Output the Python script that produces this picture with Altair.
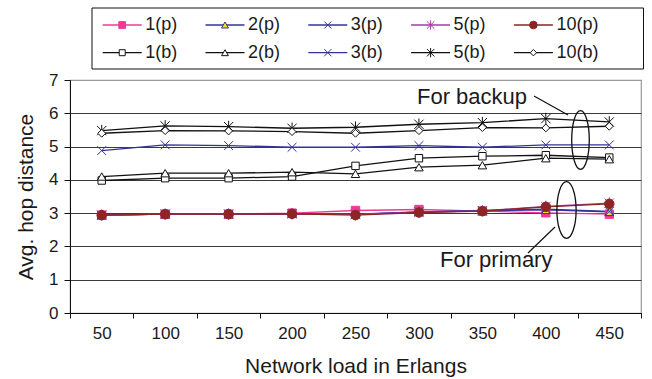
import altair as alt
import pandas as pd

# ---------------- data ----------------
loads = [50, 100, 150, 200, 250, 300, 350, 400, 450]
series = ["1(p)", "2(p)", "3(p)", "5(p)", "10(p)",
          "1(b)", "2(b)", "3(b)", "5(b)", "10(b)"]

hop_1p = [2.94, 2.97, 2.97, 3.00, 3.08, 3.11, 3.06, 3.01, 2.97]
hop_2p = [2.94, 2.97, 2.97, 2.98, 2.96, 3.03, 3.07, 3.10, 3.04]
hop_3p = [2.94, 2.97, 2.97, 2.98, 2.97, 3.04, 3.08, 3.12, 3.05]
hop_5p = [2.94, 2.97, 2.97, 2.98, 2.96, 3.03, 3.07, 3.20, 3.30]
hop_10p = [2.94, 2.97, 2.97, 2.98, 2.94, 3.02, 3.06, 3.19, 3.28]
hop_1b = [3.98, 4.05, 4.05, 4.10, 4.42, 4.65, 4.71, 4.74, 4.67]
hop_2b = [4.10, 4.20, 4.20, 4.23, 4.18, 4.38, 4.44, 4.65, 4.62]
hop_3b = [4.88, 5.05, 5.03, 4.98, 4.98, 5.03, 4.98, 5.05, 5.05]
hop_5b = [5.48, 5.62, 5.60, 5.55, 5.58, 5.67, 5.72, 5.84, 5.74]
hop_10b = [5.40, 5.48, 5.47, 5.45, 5.40, 5.48, 5.57, 5.56, 5.61]

values = [hop_1p, hop_2p, hop_3p, hop_5p, hop_10p,
          hop_1b, hop_2b, hop_3b, hop_5b, hop_10b]

# ---------------- styles ----------------
PINK = "#ef3a92"
NAVY = "#33339b"
PURPLE = "#a23ba9"
BROWN = "#8d2525"
YELLOW = "#f3e31e"
BLACK = "#111111"
TEXT = "#1a1a1a"
FONT = "Liberation Sans, Arial, sans-serif"

X_PATH = "M-1,-1L1,1M-1,1L1,-1"
STAR_PATH = "M-1,-1L1,1M-1,1L1,-1M0,-1.25L0,1.25"

line_color = [PINK, NAVY, NAVY, PURPLE, BROWN, BLACK, BLACK, NAVY, BLACK, BLACK]
marker_fill = [PINK, YELLOW, "transparent", "transparent", BROWN,
               "white", "white", "transparent", "transparent", "white"]
marker_shape = ["square", "triangle-up", X_PATH, STAR_PATH, "circle",
                "square", "triangle-up", X_PATH, STAR_PATH, "diamond"]
marker_size = [70, 75, 75, 85, 90, 55, 72, 78, 85, 62]

W, H = 571, 233

# long table for the plotted series
rows = []
for i, (name, vals) in enumerate(zip(series, values)):
    for load, v in zip(loads, vals):
        rows.append({"series": name, "load": load, "hop": v,
                     "lcolor": line_color[i], "mfill": marker_fill[i],
                     "mshape": marker_shape[i], "msize": marker_size[i]})
df = pd.DataFrame(rows)

x_enc = alt.X(
    "load:O",
    scale=alt.Scale(type="band", paddingInner=0, paddingOuter=0),
    bandPosition=0.5,
    title="Network load in Erlangs",
    axis=alt.Axis(tickBand="extent", labelAngle=0, tickSize=5,
                  labelPadding=7, titlePadding=14, grid=False),
)
y_enc = alt.Y(
    "hop:Q",
    scale=alt.Scale(domain=[0, 7], nice=False),
    title="Avg. hop distance",
    axis=alt.Axis(values=list(range(8)), tickSize=6, labelPadding=6,
                  titlePadding=12,
                  gridColor={"condition": {"test": "datum.value === 7",
                                           "value": "#9a9a9a"},
                             "value": "#3a3a3a"}),
)

lines = alt.Chart(df).mark_line(strokeWidth=1.3).encode(
    x=x_enc, y=y_enc,
    stroke=alt.Stroke("lcolor:N", scale=None),
    detail="series:N",
)

points = alt.Chart(df).mark_point(filled=False, strokeWidth=1, opacity=1).encode(
    x=x_enc, y=y_enc,
    shape=alt.Shape("mshape:N", scale=None),
    fill=alt.Fill("mfill:N", scale=None),
    stroke=alt.Stroke("lcolor:N", scale=None),
    size=alt.Size("msize:Q", scale=None),
)

# ---------------- legend (two rows of five) ----------------
LEG_X0, LEG_STEP, LEG_LINE = 32.7, 102.8, 39
LEG_Y0, LEG_ROW = -55, 27.7
leg = pd.DataFrame({
    "series": series,
    "lcolor": line_color,
    "mfill": marker_fill,
    "mshape": marker_shape,
    "msize": [s * 0.65 for s in marker_size],
})
leg["col"] = [i % 5 for i in range(len(series))]
leg["row"] = [i // 5 for i in range(len(series))]
leg["x0"] = LEG_X0 + leg["col"] * LEG_STEP
leg["x1"] = leg["x0"] + LEG_LINE
leg["xm"] = leg["x0"] + LEG_LINE / 2
leg["xt"] = leg["x1"] + 3.5
leg["ly"] = LEG_Y0 + leg["row"] * LEG_ROW

one = pd.DataFrame({"k": [0]})

legend_box = alt.Chart(one).mark_rect(
    fill="white", stroke=BLACK, strokeWidth=1
).encode(x=alt.value(22), x2=alt.value(573.5), y=alt.value(-72), y2=alt.value(-11))

legend_lines = alt.Chart(leg).mark_rule(strokeWidth=1.3).encode(
    x=alt.X("x0:Q", scale=None), x2="x1:Q",
    y=alt.Y("ly:Q", scale=None),
    stroke=alt.Stroke("lcolor:N", scale=None),
)
legend_marks = alt.Chart(leg).mark_point(filled=False, strokeWidth=1, opacity=1).encode(
    x=alt.X("xm:Q", scale=None),
    y=alt.Y("ly:Q", scale=None),
    shape=alt.Shape("mshape:N", scale=None),
    fill=alt.Fill("mfill:N", scale=None),
    stroke=alt.Stroke("lcolor:N", scale=None),
    size=alt.Size("msize:Q", scale=None),
)
legend_text = alt.Chart(leg).mark_text(
    align="left", baseline="middle", fontSize=18, font=FONT, color=TEXT
).encode(
    x=alt.X("xt:Q", scale=None),
    y=alt.Y("ly:Q", scale=None),
    text="series:N",
)

# ---------------- callouts ----------------
ELLIPSE_B = "M0,-1A0.30,1,0,1,1,0,1A0.30,1,0,1,1,0,-1Z"
ELLIPSE_P = "M0,-1A0.34,1,0,1,1,0,1A0.34,1,0,1,1,0,-1Z"

note_backup = alt.Chart(one).mark_text(
    text="For backup", align="left", baseline="alphabetic",
    fontSize=22, font=FONT, color=TEXT
).encode(x=alt.value(347), y=alt.value(24))
note_primary = alt.Chart(one).mark_text(
    text="For primary", align="left", baseline="alphabetic",
    fontSize=22, font=FONT, color=TEXT
).encode(x=alt.value(370), y=alt.value(187))

arrow_backup = alt.Chart(one).mark_rule(color=BLACK, strokeWidth=1.2).encode(
    x=alt.value(464), y=alt.value(16), x2=alt.value(498), y2=alt.value(35))
arrow_primary = alt.Chart(one).mark_rule(color=BLACK, strokeWidth=1.2).encode(
    x=alt.value(485), y=alt.value(147), x2=alt.value(458), y2=alt.value(173))

ring_backup = alt.Chart(one).mark_point(
    shape=ELLIPSE_B, size=3434, filled=False, color=BLACK, strokeWidth=1.3, opacity=1
).encode(x=alt.value(510.5), y=alt.value(60))
ring_primary = alt.Chart(one).mark_point(
    shape=ELLIPSE_P, size=3204, filled=False, color=BLACK, strokeWidth=1.3, opacity=1
).encode(x=alt.value(496.5), y=alt.value(130))

chart = alt.layer(
    lines, points,
    legend_box, legend_lines, legend_marks, legend_text,
    arrow_backup, arrow_primary, ring_backup, ring_primary,
    note_backup, note_primary,
).properties(
    width=W, height=H,
    autosize=alt.AutoSizeParams(type="none"),
    padding={"left": 70, "top": 80, "right": 11, "bottom": 66},
).configure(
    font=FONT,
).configure_view(
    stroke="#9a9a9a", strokeWidth=1.2,
).configure_axis(
    labelFont=FONT, titleFont=FONT,
    labelFontSize=17, titleFontSize=21,
    labelColor=TEXT, titleColor=TEXT, titleFontWeight="normal",
    domainColor=BLACK, tickColor=BLACK, domainWidth=1, tickWidth=1,
)

chart.save("out.html", embed_options={"renderer": "svg", "actions": False})
